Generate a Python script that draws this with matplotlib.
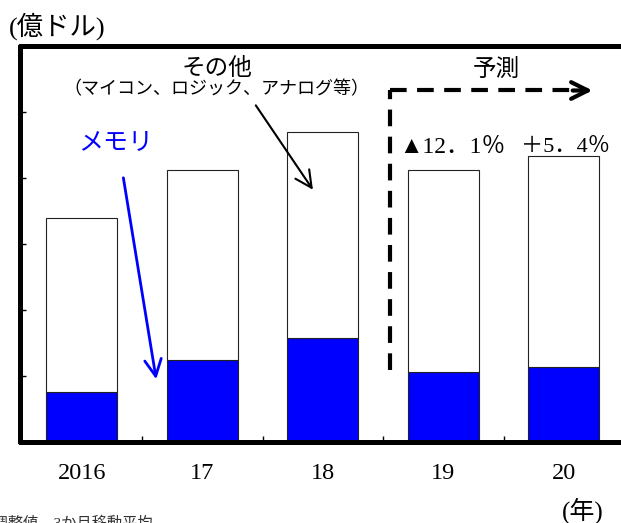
import numpy as np
import matplotlib.pyplot as plt

plt.rcParams['font.family'] = ['Liberation Serif', 'Noto Sans CJK JP', 'DejaVu Sans']

# data (億ドル)
years = ['2016', '17', '18', '19', '20']
total = [3389, 4122, 4688, 4121, 4330]
memory = [767, 1240, 1580, 1065, 1144]
growth = ['▲12．1％', '＋5．4％']

other = [t - m for t, m in zip(total, memory)]
x = np.arange(len(years))

fig = plt.figure(figsize=(6.21, 5.23), dpi=100)
ax = fig.add_axes([0.033, 0.154, 0.974, 0.759])

ax.bar(x, memory, width=0.59, color='#0000ff', edgecolor='#222222', linewidth=0.8)
ax.bar(x, other, bottom=memory, width=0.59, color='white', edgecolor='#222222', linewidth=0.8)

ax.set_xlim(-0.51, 4.51)
ax.set_ylim(0, 6000)
ax.set_yticks(np.arange(0, 6001, 1000))
ax.set_yticklabels([])
ax.set_xticks(x)
ax.set_xticklabels(years, fontsize=17.5)
ax.set_xticks(x[:-1] + 0.5, minor=True)
ax.tick_params(axis='x', which='major', length=0, pad=15)
ax.tick_params(axis='x', which='minor', direction='in', length=4, width=1)
ax.tick_params(axis='y', direction='in', length=4, width=1)
for s in ax.spines.values():
    s.set_linewidth(3.6)
    s.set_capstyle('round')

# texts
fig.text(0.014, 0.950, '(億ドル)', fontsize=19, va='center', ha='left')
ax.text(1.12, 5650, 'その他', fontsize=17, ha='center', va='center')
ax.text(1.12, 5330, '（マイコン、ロジック、アナログ等）', fontsize=13, ha='center', va='center')
ax.text(3.44, 5620, '予測', fontsize=17, ha='center', va='center')
ax.text(0.28, 4510, 'メモリ', fontsize=18, ha='center', va='center', color='#0000ff')
ax.text(3.07, 4465, growth[0], fontsize=17, ha='center', va='center')
ax.text(4.01, 4465, growth[1], fontsize=16, ha='center', va='center')
fig.text(0.938, 0.024, '(年)', fontsize=18, ha='center', va='center')
fig.text(0.246, -0.009, '季節調整値、3か月移動平均', fontsize=11, ha='right', va='baseline', color='#333333')

# arrows
ax.annotate('', xy=(1.93, 3785), xytext=(1.43, 5130),
            arrowprops=dict(arrowstyle='->', color='black', lw=1.5, mutation_scale=30))
ax.annotate('', xy=(0.62, 914), xytext=(0.34, 4042),
            arrowprops=dict(arrowstyle='->', color='#0000ff', lw=2, mutation_scale=30))

# forecast bracket
ax.plot([2.56, 2.56], [1100, 5320], color='black', lw=3, ls=(0, (4, 2.5)))
ax.plot([2.56, 4.2], [5320, 5320], color='black', lw=3, ls=(0, (4, 2.5)))
ax.annotate('', xy=(4.26, 5320), xytext=(4.05, 5320),
            arrowprops=dict(arrowstyle='->', color='black', lw=3, mutation_scale=30))

fig.savefig('out.png', dpi=100)
